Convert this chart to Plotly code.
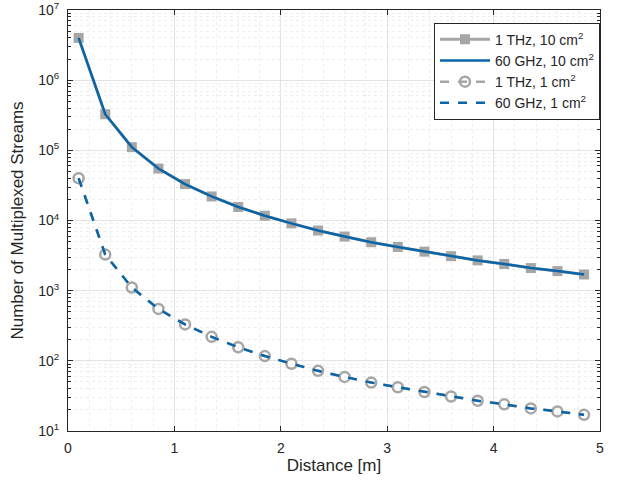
import plotly.graph_objects as go

# distance [m]
distance = [0.1, 0.35, 0.6, 0.85, 1.1, 1.35, 1.6, 1.85, 2.1, 2.35,
            2.6, 2.85, 3.1, 3.35, 3.6, 3.85, 4.1, 4.35, 4.6, 4.85]

# number of multiplexed streams, 10 cm^2 aperture
thz_10 = [4.0e6, 3.27e5, 1.11e5, 5.5e4, 3.3e4, 2.2e4, 1.56e4, 1.17e4, 9.1e3, 7.2e3,
          5.9e3, 4.9e3, 4.2e3, 3.6e3, 3.1e3, 2.7e3, 2.4e3, 2.1e3, 1.9e3, 1.7e3]
ghz_10 = [4.0e6, 3.27e5, 1.11e5, 5.5e4, 3.3e4, 2.2e4, 1.56e4, 1.17e4, 9.1e3, 7.2e3,
          5.9e3, 4.9e3, 4.2e3, 3.6e3, 3.1e3, 2.7e3, 2.4e3, 2.1e3, 1.9e3, 1.7e3]

# 1 cm^2 aperture
thz_1 = [4.0e4, 3.27e3, 1110, 550, 330, 220, 156, 117, 91, 72,
         59, 49, 42, 36, 31, 27, 24, 21, 19, 17]
ghz_1 = [4.0e4, 3.27e3, 1110, 550, 330, 220, 156, 117, 91, 72,
         59, 49, 42, 36, 31, 27, 24, 21, 19, 17]

y_ticks = [1e1, 1e2, 1e3, 1e4, 1e5, 1e6, 1e7]
y_labels = ["10<sup>1</sup>", "10<sup>2</sup>", "10<sup>3</sup>", "10<sup>4</sup>",
            "10<sup>5</sup>", "10<sup>6</sup>", "10<sup>7</sup>"]

grey = "#a6a6a6"
blue = "#0a64a8"

fig = go.Figure()

fig.add_trace(go.Scatter(x=distance, y=thz_10, name="1 THz, 10 cm<sup>2</sup>",
                         mode="lines+markers",
                         line=dict(color=grey, width=3),
                         marker=dict(symbol="square", size=10, color=grey)))
fig.add_trace(go.Scatter(x=distance, y=ghz_10, name="60 GHz, 10 cm<sup>2</sup>",
                         mode="lines", line=dict(color=blue, width=2.5)))
fig.add_trace(go.Scatter(x=distance, y=thz_1, name="1 THz, 1 cm<sup>2</sup>",
                         mode="lines+markers",
                         line=dict(color=grey, width=2.5, dash="dash"),
                         marker=dict(symbol="circle-open", size=10, color=grey,
                                     line=dict(width=2.5, color=grey))))
fig.add_trace(go.Scatter(x=distance, y=ghz_1, name="60 GHz, 1 cm<sup>2</sup>",
                         mode="lines", line=dict(color=blue, width=2.5, dash="dash")))

fig.update_layout(
    width=619, height=486,
    margin=dict(l=68, r=19, t=10, b=55),
    plot_bgcolor="white", paper_bgcolor="white",
    font=dict(family="Liberation Sans, Arial", size=14, color="#262626"),
    legend=dict(x=1.0, y=0.97, xanchor="right", yanchor="top",
                bgcolor="white", bordercolor="#262626", borderwidth=1,
                font=dict(size=14), tracegroupgap=0, itemwidth=50),
    showlegend=True,
)

fig.update_xaxes(
    range=[0, 5], dtick=1, automargin=False,
    title=dict(text="Distance [m]", standoff=4),
    ticklabelstandoff=4,
    showline=True, linecolor="#262626", linewidth=1, mirror="ticks",
    ticks="inside", ticklen=5, tickcolor="#262626",
    showgrid=True, gridcolor="#e3e3e3", zeroline=False,
    minor=dict(dtick=0.2, showgrid=True, gridcolor="#eeeeee", griddash="dot"),
)
fig.update_yaxes(
    type="log", range=[1, 7], automargin=False,
    tickmode="array", tickvals=y_ticks, ticktext=y_labels,
    title=dict(text="Number of Multiplexed Streams", standoff=10),
    ticklabelstandoff=5,
    showline=True, linecolor="#262626", linewidth=1, mirror="ticks",
    ticks="inside", ticklen=5, tickcolor="#262626",
    showgrid=True, gridcolor="#e3e3e3", zeroline=False,
    minor=dict(dtick="D1", showgrid=True, gridcolor="#eeeeee", griddash="dot",
               ticks="inside", ticklen=3, tickcolor="#262626"),
)

# drop the default 8px page margin so the figure fills the window
fig.write_html("out.html", config={"displayModeBar": False},
               post_script="document.body.style.margin = '0';")
